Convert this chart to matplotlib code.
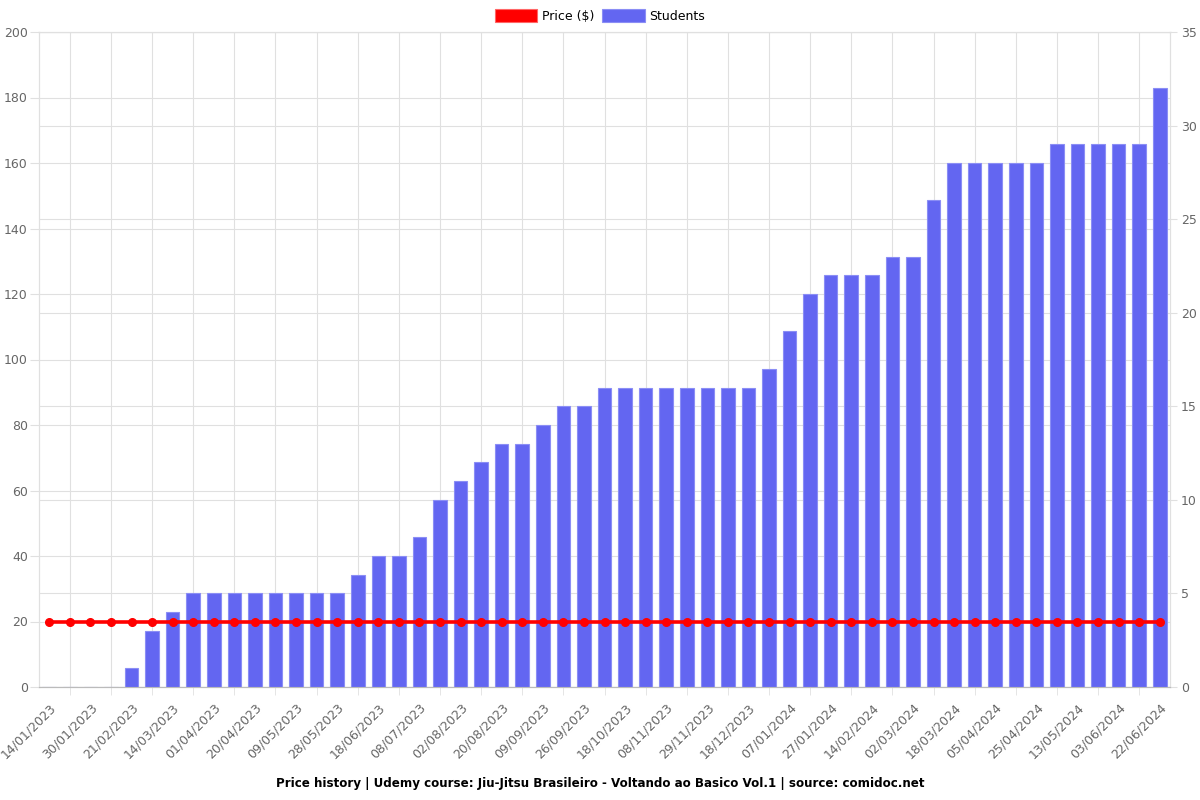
import matplotlib
matplotlib.use("Agg")
import matplotlib.pyplot as plt
import matplotlib.transforms as mtransforms
from matplotlib.patches import Patch
import numpy as np

dates = ["14/01/2023", "22/01/2023", "30/01/2023", "10/02/2023", "21/02/2023", "03/03/2023",
         "14/03/2023", "23/03/2023", "01/04/2023", "10/04/2023", "20/04/2023", "29/04/2023",
         "09/05/2023", "18/05/2023", "28/05/2023", "07/06/2023", "18/06/2023", "28/06/2023",
         "08/07/2023", "20/07/2023", "02/08/2023", "11/08/2023", "20/08/2023", "30/08/2023",
         "09/09/2023", "17/09/2023", "26/09/2023", "07/10/2023", "18/10/2023", "29/10/2023",
         "08/11/2023", "18/11/2023", "29/11/2023", "08/12/2023", "18/12/2023", "28/12/2023",
         "07/01/2024", "17/01/2024", "27/01/2024", "05/02/2024", "14/02/2024", "22/02/2024",
         "02/03/2024", "10/03/2024", "18/03/2024", "27/03/2024", "05/04/2024", "15/04/2024",
         "25/04/2024", "04/05/2024", "13/05/2024", "24/05/2024", "03/06/2024", "12/06/2024",
         "22/06/2024"]

price = [20] * 55

students = [0, 0, 0, 0, 1, 3, 4, 5, 5, 5, 5, 5, 5, 5, 5, 6, 7, 7, 8, 10,
            11, 12, 13, 13, 14, 15, 15, 16, 16, 16, 16, 16, 16, 16, 16, 17, 19, 21, 22, 22,
            22, 23, 23, 26, 28, 28, 28, 28, 28, 29, 29, 29, 29, 29, 32]

left_ticks = list(range(0, 201, 20))
right_ticks = list(range(0, 36, 5))

fig = plt.figure(figsize=(12, 8), dpi=100)
ax = fig.add_axes([39/1200, 1-687/800, (1170-39)/1200, (687-32)/800])
ax2 = ax.twinx()

ax.set_zorder(2)
ax.patch.set_visible(False)
ax2.set_zorder(1)

x = np.arange(len(dates))
grid_c = "#e0e0e0"
tick_c = "#666666"

# bars on right axis
ax2.bar(x, students, width=0.66, color="#6366f1", edgecolor="#8b8ef5", linewidth=0.8, zorder=3)
ax2.set_ylim(0, 35)
ax2.set_yticks(right_ticks)

# price line on left axis
ax.plot(x, price, color="#ff0000", linewidth=2.6, marker="o", markersize=5.5, zorder=5)
ax.set_ylim(0, 200)
ax.set_yticks(left_ticks)
ax.set_xlim(-0.5, len(dates) - 0.5)

# x ticks
ax.set_xticks(x[::2])
ax.set_xticklabels(dates[::2], rotation=45, ha="right", rotation_mode="anchor")
ax.set_xticks(x[1:-1:2], minor=True)
ax.tick_params(axis="x", which="major", length=0, pad=10, labelsize=9, labelcolor=tick_c)
ax.tick_params(axis="x", which="minor", length=6, color=grid_c)
ax.tick_params(axis="y", length=6.5, pad=1.5, color=grid_c, labelsize=9, labelcolor=tick_c)
ax2.tick_params(axis="y", length=5, pad=3, color=grid_c, labelsize=9, labelcolor=tick_c)

# grid lines beneath the bars
ax2.set_axisbelow(True)
ax2.yaxis.grid(True, color=grid_c, linewidth=0.8)
blend = mtransforms.blended_transform_factory(ax2.transAxes, ax.transData)
ax2.hlines(left_ticks, 0, 1, transform=blend, color=grid_c, linewidth=0.8, zorder=0)
vblend = mtransforms.blended_transform_factory(ax.transData, ax2.transAxes)
ax2.vlines(x[1:-1:2], 0, 1, transform=vblend, color=grid_c, linewidth=0.8, zorder=0)

for a in (ax, ax2):
    for s in a.spines.values():
        s.set_color(grid_c)
        s.set_linewidth(0.8)
ax.spines["bottom"].set_color("#bbbbbb")
ax2.spines["bottom"].set_color("#bbbbbb")

handles = [Patch(facecolor="#ff0000", edgecolor="#ff6666", linewidth=0.8, label="Price ($)"),
           Patch(facecolor="#6366f1", edgecolor="#8b8ef5", linewidth=0.8, label="Students")]
fig.legend(handles=handles, loc="center", bbox_to_anchor=(0.5, 1-16/800), ncol=2,
           frameon=False, fontsize=9, handlelength=3.4, handleheight=1.2,
           handletextpad=0.4, columnspacing=0.6)

fig.text(0.5, 1-783/800,
         "Price history | Udemy course: Jiu-Jitsu Brasileiro - Voltando ao Basico Vol.1 | source: comidoc.net",
         ha="center", va="center", fontsize=8.6, fontweight="bold")

fig.savefig("out.png", dpi=100)
